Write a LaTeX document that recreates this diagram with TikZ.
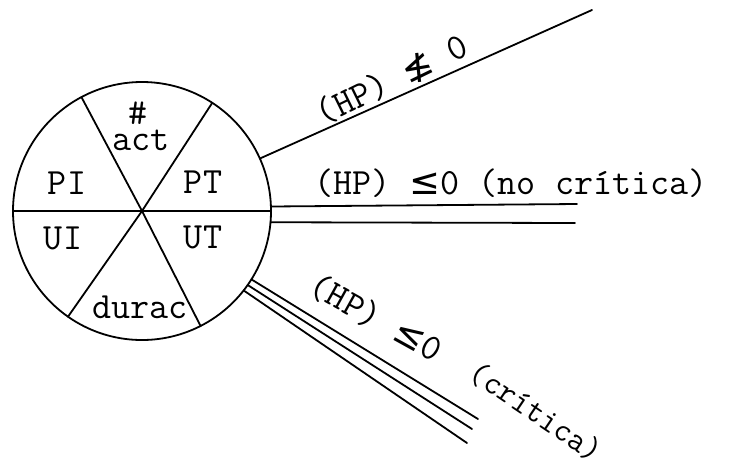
\documentclass[tikz,border=0pt]{standalone}
\usepackage{fontspec}
\setmainfont{Latin Modern Mono}
\newfontfamily\symf{DejaVu Sans}
\begin{document}
\begin{tikzpicture}[x=1pt,y=-1pt,
  ln/.style={line width=1.8pt, line cap=round},
  lbl/.style={font=\fontsize{37}{39}\selectfont, inner sep=0pt},
  lblsm/.style={font=\fontsize{33}{35}\selectfont, inner sep=0pt}]
\useasboundingbox (0,0) rectangle (730,472);
% circle
\node[draw, circle, line width=1.8pt, minimum size=258pt, inner sep=0pt, outer sep=0pt] (c) at (142,211) {};
\coordinate (o) at (142,211);
% spokes
\draw[ln] (c.180) -- (c.0);
\draw[ln] (c.118) -- (o) -- (c.-63);
\draw[ln] (c.57) -- (o) -- (c.235);
% sector labels
\node[lbl] (hash) at (138,113) {\#};
\node[lbl] (act) at (141,140) {act};
\node[lbl] (pi) at (67,183) {PI};
\node[lbl] (pt) at (203,182) {PT};
\node[lbl] (ui) at (63,238) {UI};
\node[lbl] (ut) at (203,237) {UT};
\node[lbl] (durac) at (140,307) {durac};
% outgoing lines
\coordinate (e1) at (592,10);
\coordinate (e2a) at (577,204);
\coordinate (e2b) at (575,223);
\coordinate (e3a) at (478,419);
\coordinate (e3b) at (472,429);
\coordinate (e3c) at (467,443);
\draw[ln] (c.24) -- (e1);
\draw[ln] (c.2) -- (e2a);
\draw[ln] (c.-5) -- (e2b);
\draw[ln] (c.-32) -- (e3a);
\draw[ln] (c.-35.5) -- (e3b);
\draw[ln] (c.-38) -- (e3c);
% line labels
\node[lbl, rotate=26] (l1) at (392,80) {(HP) {\symf ≰} 0};
\node[lbl] (l2) at (511,183) {(HP) {\symf ≤}0 (no crítica)};
\node[lbl, rotate=-29] (l3) at (376,318) {(HP) {\symf ≤}0};
\node[lblsm, rotate=-34] (l4) at (536,412) {(crítica)};
\end{tikzpicture}
\end{document}
